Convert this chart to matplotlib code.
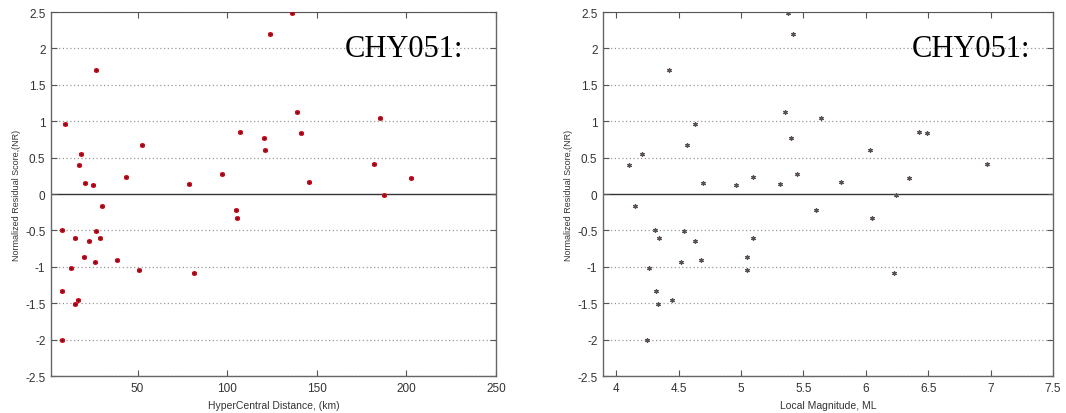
import matplotlib
matplotlib.use("Agg")
import matplotlib.pyplot as plt

# Normalized residual score per event, with hypocentral distance and local magnitude
nr_score = [2.48, 2.20, 1.71, 1.13, 1.05, 0.96, 0.85, 0.84, 0.77, 0.67,
            0.60, 0.55, 0.41, 0.40, 0.27, 0.24, 0.22, 0.16, 0.15, 0.14,
            0.13, -0.02, -0.17, -0.22, -0.33, -0.50, -0.51, -0.60, -0.61, -0.64,
            -0.87, -0.90, -0.94, -1.02, -1.04, -1.08, -1.33, -1.45, -1.51, -2.01]
distance_km = [136.3, 123.7, 26.7, 139.2, 185.4, 9.6, 106.9, 141.2, 120.3, 52.2,
               120.9, 18.5, 182.2, 17.6, 97.0, 43.3, 202.5, 145.7, 20.7, 78.7,
               25.2, 187.6, 30.4, 104.8, 105.4, 8.0, 26.7, 29.1, 15.2, 23.0,
               20.0, 38.3, 26.2, 12.7, 50.8, 81.3, 8.0, 16.7, 15.0, 8.0]
magnitude_ml = [5.38, 5.42, 4.42, 5.355, 5.64, 4.63, 6.425, 6.49, 5.40, 4.57,
                6.035, 4.21, 6.97, 4.10, 5.45, 5.10, 6.35, 5.80, 4.70, 5.31,
                4.96, 6.24, 4.15, 5.60, 6.05, 4.31, 4.54, 4.34, 5.10, 4.63,
                5.045, 4.68, 4.52, 4.26, 5.045, 6.23, 4.32, 4.45, 4.335, 4.25]

y_ticks = [-2.5, -2, -1.5, -1, -0.5, 0, 0.5, 1, 1.5, 2, 2.5]
y_tick_labels = ["-2.5", "-2", "-1.5", "-1", "-0.5", "0", "0.5", "1", "1.5", "2", "2.5"]
dist_ticks = [50, 100, 150, 200, 250]
mag_ticks = [4, 4.5, 5, 5.5, 6, 6.5, 7, 7.5]
mag_tick_labels = ["4", "4.5", "5", "5.5", "6", "6.5", "7", "7.5"]

station = "CHY051:"
y_label = "Normalized Residual Score,(NR)"

plt.rcParams["font.family"] = ["Liberation Sans", "DejaVu Sans"]

W, H = 1066, 414
fig = plt.figure(figsize=(W / 100, H / 100), dpi=100)

def px_axes(x0, x1, y0, y1):
    return fig.add_axes([x0 / W, 1 - y1 / H, (x1 - x0) / W, (y1 - y0) / H])

ax1 = px_axes(51, 496, 13, 377)
ax2 = px_axes(603, 1053, 13, 377)

def style(ax, xlim, xticks, xlabels, xlabel):
    ax.set_ylim(-2.5, 2.5)
    ax.set_xlim(*xlim)
    ax.set_yticks(y_ticks)
    ax.set_yticklabels(y_tick_labels)
    ax.set_xticks(xticks)
    ax.set_xticklabels(xlabels)
    ax.tick_params(direction="in", length=4, width=0.8, color="#555555",
                   labelsize=8.5, labelcolor="#333333", top=True, right=True, pad=4)
    for g in y_ticks:
        if g == 0:
            ax.axhline(g, color="#333333", lw=1.0, zorder=1)
        else:
            ax.axhline(g, color="#999999", lw=0.9, ls=(0, (1, 2)), zorder=1)
    for side in ("left", "right", "bottom"):
        ax.spines[side].set_color("#666666")
        ax.spines[side].set_linewidth(1.0)
    ax.spines["top"].set_color("#555555")
    ax.spines["top"].set_linestyle((0, (1, 1)))
    ax.set_xlabel(xlabel, fontsize=7.5, color="#333333", labelpad=5)
    ax.set_ylabel(y_label, fontsize=6.5, color="#333333", labelpad=3)

style(ax1, (1.7, 250), dist_ticks, [str(t) for t in dist_ticks], "HyperCentral Distance, (km)")
style(ax2, (3.895, 7.5), mag_ticks, mag_tick_labels, "Local Magnitude, ML")

ax1.plot(distance_km, nr_score, ls="none", marker=(6, 2, 0), markersize=3.5,
         mew=1.2, color="#d01020", zorder=3)
ax1.plot(distance_km, nr_score, ls="none", marker="o", markersize=1.6,
         mew=0, color="#5a1020", zorder=4)
ax2.plot(magnitude_ml, nr_score, ls="none", marker=(6, 2, 0), markersize=3.2,
         mew=0.9, color="#5a5058", zorder=3)

ax1.text(0.926, 0.901, station, transform=ax1.transAxes, ha="right", va="center",
         fontsize=22, family="Liberation Serif", color="black")
ax2.text(0.949, 0.901, station, transform=ax2.transAxes, ha="right", va="center",
         fontsize=22, family="Liberation Serif", color="black")

fig.savefig("out.png", dpi=100)
